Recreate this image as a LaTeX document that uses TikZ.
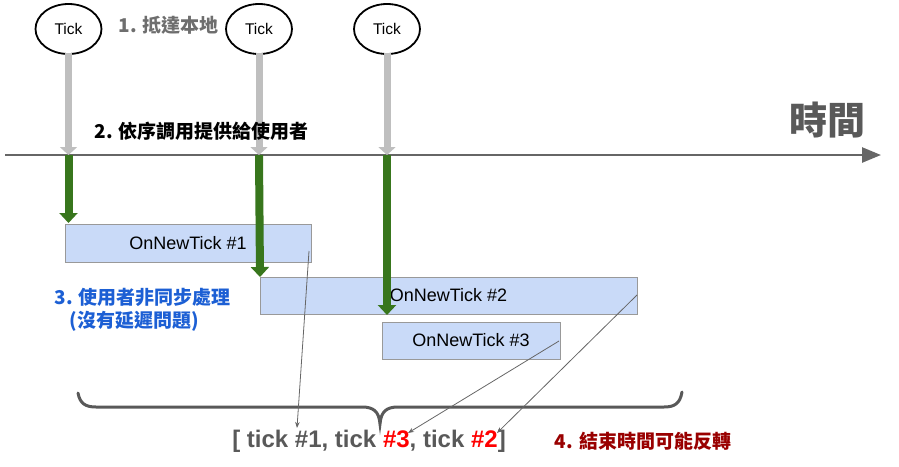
\documentclass[tikz,border=0pt]{standalone}
\usepackage{fontspec}
\setmainfont{Liberation Sans}
\newfontfamily\cjk{Noto Sans CJK TC}
\usetikzlibrary{arrows.meta,shapes.geometric}
\definecolor{boxfill}{HTML}{C9DAF8}
\definecolor{boxline}{HTML}{999999}
\definecolor{tickgray}{HTML}{BFBFBF}
\definecolor{axisgray}{HTML}{666666}
\definecolor{dgreen}{HTML}{38761D}
\definecolor{txtgray}{HTML}{595959}
\definecolor{lgray}{HTML}{6E6E6E}
\definecolor{stepblue}{HTML}{1C5FD4}
\definecolor{dred}{HTML}{990000}
\definecolor{hired}{HTML}{FF0000}
\begin{document}
\begin{tikzpicture}[x=1pt,y=-1pt,
  tickell/.style={ellipse,draw=black,line width=1.8pt,minimum width=66pt,minimum height=50pt,inner sep=0pt,font=\fontsize{15.5}{18}\selectfont},
  taskbox/.style={rectangle,draw=boxline,fill=boxfill,line width=1pt,inner sep=0pt,font=\fontsize{18}{21}\selectfont},
  grayarrow/.style={draw=tickgray,line width=7pt,-{Triangle[width=17pt,length=8pt]}},
  greenarrow/.style={draw=dgreen,line width=8pt,-{Triangle[width=18pt,length=10pt]}},
  linkarrow/.style={draw=axisgray,line width=0.8pt,-{Stealth[length=6pt,width=4.5pt]}},
  cjklabel/.style={font=\cjk\bfseries\fontsize{19}{23}\selectfont}
]
\useasboundingbox (0,0) rectangle (899,466);

% Tick ellipses
\node[tickell] (t1) at (68.5,29) {Tick};
\node[tickell] (t2) at (259,29) {Tick};
\node[tickell] (t3) at (387,29) {Tick};

% axis
\coordinate (axL) at (5,155);
\coordinate (axR) at (881,155);
\draw[draw=axisgray,line width=2.6pt,-{Triangle[width=15pt,length=19pt]}] (axL) -- (axR);
\node[font=\cjk\bfseries\fontsize{38}{42}\selectfont,text=txtgray] (time) at (827,120) {時間};

% gray arrows
\coordinate (a1) at (68.5,155);
\coordinate (a2) at (259,155);
\coordinate (a3) at (387,155);
\draw[grayarrow] ([yshift=2pt]t1.south) -- (a1);
\draw[grayarrow] ([yshift=2pt]t2.south) -- (a2);
\draw[grayarrow] ([yshift=2pt]t3.south) -- (a3);

% labels
\node[cjklabel,text=lgray,anchor=west] (l1) at (115,25) {1. 抵達本地};
\node[cjklabel,text=black,anchor=west] (l2) at (91,131) {2. 依序調用提供給使用者};

% boxes
\node[taskbox,minimum width=246pt,minimum height=38pt] (b1) at (188,243) {OnNewTick \#1};
\node[taskbox,minimum width=377pt,minimum height=37pt] (b2) at (448.5,295.5) {OnNewTick \#2};
\node[taskbox,minimum width=178pt,minimum height=37pt] (b3) at (471,340.5) {OnNewTick \#3};

% green arrows
\coordinate (g1) at (68.5,223);
\coordinate (g2) at (260,277);
\coordinate (g3) at (387,315);
\draw[greenarrow] (a1) -- (g1);
\draw[greenarrow] (a2) -- (g2);
\draw[greenarrow] (a3) -- (g3);

% blue label
\node[cjklabel,text=stepblue,anchor=west] (l3a) at (51,297) {3. 使用者非同步處理};
\node[cjklabel,text=stepblue,anchor=west] (l3b) at (66,321) {(沒有延遲問題)};

% brace
\draw[draw=txtgray,line width=3pt,line cap=round]
  (78,393) .. controls (80,404) and (86,407) .. (96,407) -- (362,407)
  .. controls (373,407) and (379,411) .. (380,424)
  .. controls (381,411) and (387,407) .. (398,407) -- (664,407)
  .. controls (674,407) and (680,404) .. (682,392);

% result list
\node[font=\bfseries\fontsize{24}{27}\selectfont,text=txtgray] (list) at (369,441)
  {[ tick \#1, tick {\color{hired}\#3}, tick {\color{hired}\#2}]};
\node[cjklabel,text=dred] (l4) at (643,441) {4. 結束時間可能反轉};

% link lines
\coordinate (e1) at (309,251);
\coordinate (e2) at (637,295);
\coordinate (e3) at (559,341);
\coordinate (p1) at (297,428);
\coordinate (p3) at (408,433);
\coordinate (p2) at (497,433);
\draw[linkarrow] (e1) -- (p1);
\draw[linkarrow] (e3) -- (p3);
\draw[linkarrow] (e2) -- (p2);
\end{tikzpicture}
\end{document}
